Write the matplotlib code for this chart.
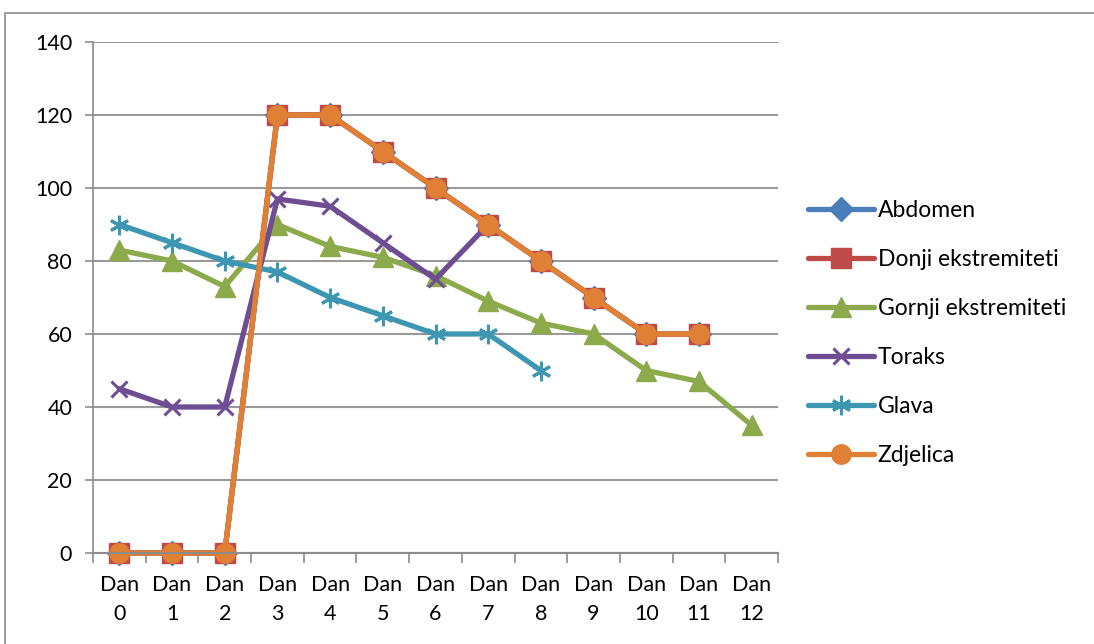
import matplotlib
matplotlib.use("Agg")
import matplotlib.pyplot as plt
from matplotlib.patches import Rectangle

plt.rcParams['font.family'] = ['Lato', 'DejaVu Sans']

days = [f'Dan\n{i}' for i in range(13)]

abdomen = [0, 0, 0, 120, 120, 110, 100, 90, 80, 70, 60, 60]
donji = [0, 0, 0, 120, 120, 110, 100, 90, 80, 70, 60, 60]
gornji = [83, 80, 73, 90, 84, 81, 76, 69, 63, 60, 50, 47, 35]
toraks = [45, 40, 40, 97, 95, 85, 75, 90]
glava = [90, 85, 80, 77, 70, 65, 60, 60, 50]
zdjelica = [0, 0, 0, 120, 120, 110, 100, 90, 80, 70, 60, 60]

series = [
    ('Abdomen', abdomen, '#4A7EBB', 'D', 12),
    ('Donji ekstremiteti', donji, '#BE4B48', 's', 15),
    ('Gornji ekstremiteti', gornji, '#8CA94B', '^', 14),
    ('Toraks', toraks, '#6F4D92', 'x', 12),
    ('Glava', glava, '#3E97B2', (6, 2, 0), 14),
    ('Zdjelica', zdjelica, '#E08035', 'o', 14),
]

fig = plt.figure(figsize=(10.94, 6.44), dpi=100)
ax = fig.add_axes([93 / 1094, 1 - 553 / 644, 685 / 1094, 511 / 644])

# outer chart border (cut off at right and bottom like the source)
fig.patches.append(Rectangle((5 / 1094, -0.1), 1.2, 1 - 13 / 644 + 0.1,
                             transform=fig.transFigure, fill=False,
                             edgecolor='#8C8C8C', linewidth=1.2))

for name, vals, color, marker, ms in series:
    mew = 2.2 if marker in ('x', (6, 2, 0)) else 1
    ax.plot(range(len(vals)), vals, color=color, linewidth=3.8, marker=marker,
            markersize=ms, markerfacecolor=color, markeredgecolor=color,
            markeredgewidth=mew, label=name, solid_capstyle='round',
            clip_on=False)

ax.set_xlim(-0.5, 12.5)
ax.set_ylim(0, 140)
ax.set_yticks(range(0, 141, 20))
ax.set_xticks(range(13))
ax.set_xticklabels(days)
ax.set_xticks([i - 0.5 for i in range(14)], minor=True)
ax.tick_params(axis='x', which='major', length=0, pad=16, labelsize=15.5)
ax.tick_params(axis='x', which='minor', length=7, color='#8C8C8C', width=1.2)
ax.tick_params(axis='y', length=6, color='#8C8C8C', width=1.2, labelsize=15.5, pad=9)
for lbl in ax.get_xticklabels():
    lbl.set_linespacing(1.55)

ax.grid(axis='y', color='#9A9A9A', linewidth=1.5)
ax.set_axisbelow(True)
for s in ('top', 'right'):
    ax.spines[s].set_visible(False)
ax.spines['left'].set_color('#8C8C8C')
ax.spines['bottom'].set_color('#8C8C8C')
ax.spines['left'].set_linewidth(1.2)
ax.spines['bottom'].set_linewidth(1.5)

fig.legend(loc='upper left', bbox_to_anchor=(808 / 1094, 1 - 200 / 644),
           frameon=False, fontsize=16.5, handlelength=2.9, handletextpad=0.15,
           labelspacing=1.22, borderpad=0, borderaxespad=0)

fig.savefig('out.png', dpi=100)
